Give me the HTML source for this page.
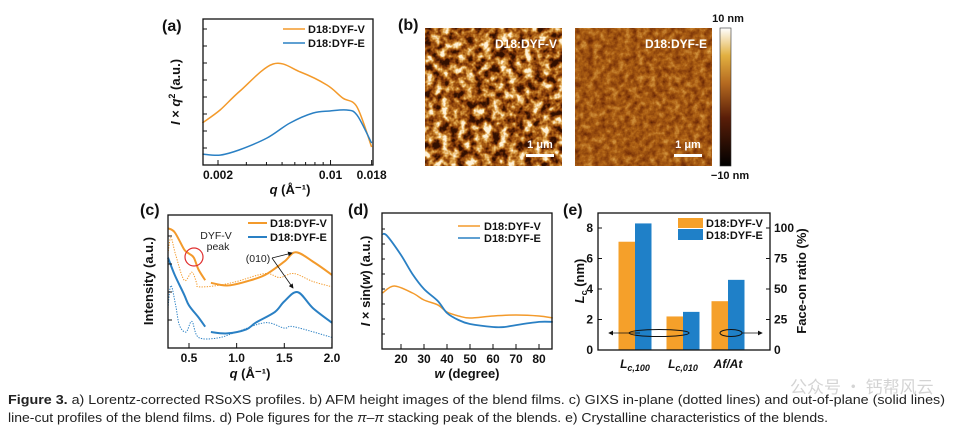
<!DOCTYPE html>
<html><head><meta charset="utf-8"><style>
html,body{margin:0;padding:0;background:#fff}
svg{display:block;font-family:"Liberation Sans","Noto Sans CJK SC",sans-serif}
.t{font-weight:bold;font-size:12px;fill:#111}
.ax{font-weight:bold;font-size:13px;fill:#111}
.lg{font-weight:bold;font-size:11px;fill:#111}
.pl{font-weight:bold;font-size:16px;fill:#111}
</style></head><body>
<svg id="fig" width="957" height="435" viewBox="0 0 957 435">
<defs>
<filter id="afm1" x="0" y="0" width="100%" height="100%" color-interpolation-filters="sRGB">
<feTurbulence type="fractalNoise" baseFrequency="0.12" numOctaves="3" seed="4"/>
<feColorMatrix type="matrix" values="2.2 0 0 0 -0.62  2.2 0 0 0 -0.62  2.2 0 0 0 -0.62  0 0 0 0 1"/>
<feComponentTransfer><feFuncR type="table" tableValues="0.2 0.48 0.68 0.88 1"/><feFuncG type="table" tableValues="0.06 0.2 0.38 0.65 0.95"/><feFuncB type="table" tableValues="0 0.03 0.08 0.3 0.85"/></feComponentTransfer>
</filter>
<filter id="afm2" x="0" y="0" width="100%" height="100%" color-interpolation-filters="sRGB">
<feTurbulence type="fractalNoise" baseFrequency="0.16" numOctaves="3" seed="9"/>
<feColorMatrix type="matrix" values="0.7 0 0 0 0.1  0.7 0 0 0 0.1  0.7 0 0 0 0.1  0 0 0 0 1"/>
<feComponentTransfer><feFuncR type="table" tableValues="0.2 0.48 0.68 0.88 1"/><feFuncG type="table" tableValues="0.06 0.2 0.38 0.65 0.95"/><feFuncB type="table" tableValues="0 0.03 0.08 0.3 0.85"/></feComponentTransfer>
</filter>
<linearGradient id="cbar" x1="0" y1="1" x2="0" y2="0">
<stop offset="0" stop-color="#000"/><stop offset="0.35" stop-color="#5a1e08"/><stop offset="0.6" stop-color="#b56a20"/><stop offset="0.8" stop-color="#e2b040"/><stop offset="1" stop-color="#fff"/>
</linearGradient>
<marker id="arr" markerWidth="6" markerHeight="6" refX="5" refY="3" orient="auto"><path d="M0,0 L6,3 L0,6 z" fill="#111"/></marker>
</defs>

<!-- panel a -->
<text class="pl" x="162" y="31">(a)</text>
<g id="pa"></g>
<rect x="203" y="19" width="170" height="146" fill="none" stroke="#111" stroke-width="1.3"/>
<text class="ax" x="290" y="194" text-anchor="middle"><tspan font-style="italic">q</tspan> (Å⁻¹)</text>
<text class="ax" transform="translate(180,92) rotate(-90)" text-anchor="middle"><tspan font-style="italic">I</tspan> × <tspan font-style="italic">q</tspan><tspan dy="-5" font-size="9">2</tspan><tspan dy="5"> (a.u.)</tspan></text>
<line x1="283" y1="29" x2="305" y2="29" stroke="#f39a2b" stroke-width="1.6"/>
<text class="lg" x="308" y="33">D18:DYF-V</text>
<line x1="283" y1="43" x2="305" y2="43" stroke="#2a80c4" stroke-width="1.6"/>
<text class="lg" x="308" y="47">D18:DYF-E</text>

<!-- panel b -->
<text class="pl" x="398" y="30">(b)</text>
<rect x="425" y="28" width="137" height="138" filter="url(#afm1)"/>
<rect x="575" y="28" width="137" height="138" filter="url(#afm2)"/>
<text x="557" y="48" font-size="12" font-weight="bold" fill="#fff" text-anchor="end">D18:DYF-V</text>
<text x="707" y="48" font-size="12" font-weight="bold" fill="#fff" text-anchor="end">D18:DYF-E</text>
<text x="540" y="148" font-size="11" font-weight="bold" fill="#fff" text-anchor="middle">1 μm</text>
<rect x="526" y="154" width="28" height="3" fill="#fff"/>
<text x="688" y="148" font-size="11" font-weight="bold" fill="#fff" text-anchor="middle">1 μm</text>
<rect x="674" y="154" width="28" height="3" fill="#fff"/>
<rect x="720" y="28" width="11" height="138" fill="url(#cbar)" stroke="#333" stroke-width="0.6"/>
<text class="lg" x="728" y="22" text-anchor="middle">10 nm</text>
<text class="lg" x="730" y="179" text-anchor="middle">−10 nm</text>

<!-- panel c -->
<text class="pl" x="140" y="215">(c)</text>
<g id="pc"></g>
<rect x="168" y="215" width="164" height="133" fill="none" stroke="#111" stroke-width="1.3"/>
<text class="ax" x="250" y="378" text-anchor="middle"><tspan font-style="italic">q</tspan> (Å⁻¹)</text>
<text class="ax" transform="translate(153,281) rotate(-90)" text-anchor="middle">Intensity (a.u.)</text>
<line x1="248" y1="223" x2="267" y2="223" stroke="#f39a2b" stroke-width="2"/>
<text class="lg" x="270" y="227">D18:DYF-V</text>
<line x1="248" y1="237" x2="267" y2="237" stroke="#2a80c4" stroke-width="2"/>
<text class="lg" x="270" y="241">D18:DYF-E</text>
<circle cx="194" cy="257" r="9" fill="none" stroke="#e03030" stroke-width="1.2"/>
<text x="216" y="239" font-size="10.5" fill="#222" text-anchor="middle">DYF-V</text>
<text x="218" y="250" font-size="10.5" fill="#222" text-anchor="middle">peak</text>
<text x="258" y="262" font-size="10.5" fill="#222" text-anchor="middle">(010)</text>
<line x1="272" y1="258" x2="292" y2="253" stroke="#111" stroke-width="0.8" marker-end="url(#arr)"/>
<line x1="272" y1="258" x2="293" y2="288" stroke="#111" stroke-width="0.8" marker-end="url(#arr)"/>

<!-- panel d -->
<text class="pl" x="348" y="215">(d)</text>
<g id="pd"></g>
<rect x="382" y="213" width="170" height="136" fill="none" stroke="#111" stroke-width="1.3"/>
<text class="ax" x="467" y="378" text-anchor="middle"><tspan font-style="italic">w</tspan> (degree)</text>
<text class="ax" transform="translate(370,281) rotate(-90)" text-anchor="middle" font-size="12"><tspan font-style="italic">I</tspan> × sin(<tspan font-style="italic">w</tspan>) (a.u.)</text>
<line x1="458" y1="226" x2="480" y2="226" stroke="#f39a2b" stroke-width="1.6"/>
<text class="lg" x="484" y="230">D18:DYF-V</text>
<line x1="458" y1="238" x2="480" y2="238" stroke="#2a80c4" stroke-width="1.6"/>
<text class="lg" x="484" y="242">D18:DYF-E</text>

<!-- panel e -->
<text class="pl" x="563" y="215">(e)</text>
<g id="pe"></g>
<rect x="598" y="213" width="172" height="137" fill="none" stroke="#111" stroke-width="1.3"/>
<text class="ax" transform="translate(584,281) rotate(-90)" text-anchor="middle"><tspan font-style="italic">L</tspan><tspan font-size="9" dy="3">c</tspan><tspan dy="-3"> (nm)</tspan></text>
<text class="ax" transform="translate(806,281) rotate(-90)" text-anchor="middle">Face-on ratio (%)</text>
<rect x="678" y="218" width="25" height="10" fill="#f5a02a"/>
<text class="lg" x="706" y="227">D18:DYF-V</text>
<rect x="678" y="229" width="25" height="11" fill="#1f80c8"/>
<text class="lg" x="706" y="239">D18:DYF-E</text>
<line x1="640" y1="333" x2="609" y2="333" stroke="#111" stroke-width="0.8" marker-end="url(#arr)"/>
<ellipse cx="659" cy="333" rx="30" ry="3.5" fill="none" stroke="#111" stroke-width="1"/>
<ellipse cx="731" cy="333" rx="11" ry="3.5" fill="none" stroke="#111" stroke-width="1"/>
<line x1="742" y1="333" x2="762" y2="333" stroke="#111" stroke-width="0.8" marker-end="url(#arr)"/>

<!-- watermark -->
<text x="790" y="393" font-size="17" fill="#d4d4d4" font-family="'Noto Sans CJK SC',sans-serif">公众号 · 钙帮风云</text>

<!-- caption -->
<text x="8" y="404" font-size="12.5" fill="#222" textLength="937" lengthAdjust="spacingAndGlyphs"><tspan font-weight="bold">Figure 3.</tspan>  a) Lorentz-corrected RSoXS profiles. b) AFM height images of the blend films. c) GIXS in-plane (dotted lines) and out-of-plane (solid lines)</text>
<text x="8" y="422" font-size="12.5" fill="#222" textLength="820" lengthAdjust="spacingAndGlyphs">line-cut profiles of the blend films. d) Pole figures for the <tspan font-style="italic">π–π</tspan> stacking peak of the blends. e) Crystalline characteristics of the blends.</text>
</svg>
<script>
// ---- panel a data ----
const aQ_V = [0.0016,0.00206,0.00274,0.0044,0.0065,0.0095,0.0119,0.0146,0.018];
const aI_V = [2.88,3.77,5.07,6.92,6.37,5.48,4.59,3.97,1.23];
const aQ_E = [0.0016,0.00206,0.0027,0.00403,0.0056,0.0078,0.0099,0.0126,0.0146,0.018];
const aI_E = [0.75,0.68,1.03,1.85,2.88,3.56,3.7,3.77,3.42,1.5];
const aTicks = [0.002,0.01,0.018];
const aTickLabels = ["0.002","0.01","0.018"];
// ---- panel c data ----
const cQ_Vs1 = [0.28,0.35,0.45,0.5,0.55,0.6,0.67];
const cI_Vs1 = [9.0,8.7,7.4,7.1,6.8,5.9,5.1];
const cQ_Vs2 = [0.73,0.9,1.1,1.3,1.5,1.62,1.8,2.0];
const cI_Vs2 = [4.9,4.7,5.0,5.5,6.5,7.2,6.5,5.5];
const cQ_Vd = [0.28,0.31,0.36,0.45,0.53,0.58,0.6,0.8,1.0,1.3,1.45,1.6,1.8,2.0];
const cI_Vd = [7.1,8.3,7.0,5.1,5.7,4.9,4.6,4.7,5.0,5.6,5.3,5.6,5.0,4.6];
const cQ_Es1 = [0.28,0.35,0.45,0.5,0.6,0.67];
const cI_Es1 = [6.8,5.5,4.0,3.2,2.3,1.6];
const cQ_Es2 = [0.73,0.9,1.1,1.2,1.4,1.5,1.64,1.8,2.0];
const cI_Es2 = [1.2,1.1,1.4,1.9,2.7,3.5,4.2,3.0,1.9];
const cQ_Ed = [0.28,0.31,0.36,0.4,0.47,0.53,0.6,0.8,1.0,1.3,1.5,1.6,2.0];
const cI_Ed = [3.0,4.7,3.2,1.7,1.2,2.0,0.8,0.75,1.2,1.9,1.5,1.6,0.8];
const cTicks = [0.5,1.0,1.5,2.0];
const cTickLabels = ["0.5","1.0","1.5","2.0"];
// ---- panel d data ----
const dW = [12,17,25,30,36,40,45,50,60,70,80,86];
const dI_V = [4.12,4.63,4.12,3.6,3.24,2.72,2.43,2.28,2.43,2.5,2.43,2.28];
const dW_E = [12,14,20,25,30,36,40,45,50,60,65,70,80,86];
const dI_E = [8.46,8.31,6.91,5.51,4.41,3.53,2.65,2.13,1.84,1.62,1.62,1.76,1.99,1.99];
const dTicks = [20,30,40,50,60,70,80];
// ---- panel e data ----
const eCats = ["Lc,100","Lc,010","Af/At"];
const eV = [7.1,2.2,40];
const eE = [8.3,2.5,57.5];
const eLeftTicks = [0,2,4,6,8];
const eRightTicks = [0,25,50,75,100];

const NS="http://www.w3.org/2000/svg";
function mk(tag, parent){const e=document.createElementNS(NS,tag);parent.appendChild(e);return e;}
function smooth(pts){
  if(pts.length<2)return "";
  let d="M"+pts[0][0].toFixed(1)+","+pts[0][1].toFixed(1);
  for(let i=0;i<pts.length-1;i++){
    const p0=pts[Math.max(0,i-1)],p1=pts[i],p2=pts[i+1],p3=pts[Math.min(pts.length-1,i+2)];
    const c1=[p1[0]+(p2[0]-p0[0])/6,p1[1]+(p2[1]-p0[1])/6];
    const c2=[p2[0]-(p3[0]-p1[0])/6,p2[1]-(p3[1]-p1[1])/6];
    d+=" C"+c1.map(v=>v.toFixed(1))+" "+c2.map(v=>v.toFixed(1))+" "+p2[0].toFixed(1)+","+p2[1].toFixed(1);
  }
  return d;
}
function line(g,xs,ys,fx,fy,color,w,dash,name){
  const p=mk('path',g);
  p.setAttribute('d',smooth(xs.map((x,i)=>[fx(x),fy(ys[i])])));
  p.setAttribute('fill','none');p.setAttribute('stroke',color);p.setAttribute('stroke-width',w);
  if(dash)p.setAttribute('stroke-dasharray',dash);
  
  
  return p;
}
function tick(g,x1,y1,x2,y2){const l=mk('line',g);l.setAttribute('x1',x1);l.setAttribute('y1',y1);l.setAttribute('x2',x2);l.setAttribute('y2',y2);l.setAttribute('stroke','#111');l.setAttribute('stroke-width','1');
  
  }
function label(g,x,y,txt,anchor){const t=mk('text',g);t.setAttribute('x',x);t.setAttribute('y',y);t.setAttribute('class','t');t.setAttribute('text-anchor',anchor||'middle');t.textContent=txt;
  
  
  return t;}
const OR="#f39a2b", BL="#2a80c4";

// panel a
const xA=q=>218+161*Math.log10(q/0.002), yA=v=>165-14.6*v;
const ga=document.getElementById('pa');
line(ga,aQ_V,aI_V,xA,yA,OR,1.5,null,'rsoxs-curve-v');
line(ga,aQ_E,aI_E,xA,yA,BL,1.5,null,'rsoxs-curve-e');
aTicks.forEach((q,i)=>{tick(ga,xA(q),165,xA(q),160);label(ga,xA(q),179,aTickLabels[i]);});
[0.003,0.004,0.005,0.006,0.007,0.008,0.009].forEach(q=>tick(ga,xA(q),165,xA(q),162));
for(let v=1;v<=8;v++)tick(ga,203,165-v*17,207,165-v*17);

// panel c
const xC=q=>189+95.3*(q-0.5), yC=v=>348-13.3*v;
const gc=document.getElementById('pc');
line(gc,cQ_Vd,cI_Vd,xC,yC,OR,1,"1.3 1.3",'gixs-inplane-v');
line(gc,cQ_Ed,cI_Ed,xC,yC,BL,1,"1.3 1.3",'gixs-inplane-e');
line(gc,cQ_Vs1,cI_Vs1,xC,yC,OR,2,null,'gixs-outplane-v-low');
line(gc,cQ_Vs2,cI_Vs2,xC,yC,OR,2,null,'gixs-outplane-v-high');
line(gc,cQ_Es1,cI_Es1,xC,yC,BL,2,null,'gixs-outplane-e-low');
line(gc,cQ_Es2,cI_Es2,xC,yC,BL,2,null,'gixs-outplane-e-high');
cTicks.forEach((q,i)=>{tick(gc,xC(q),348,xC(q),343);label(gc,xC(q),362,cTickLabels[i]);});
for(let v=1;v<=4;v++)tick(gc,168,348-v*28,172,348-v*28);

// panel d
const xD=w=>401+2.3*(w-20), yD=v=>349-13.6*v;
const gd=document.getElementById('pd');
line(gd,dW,dI_V,xD,yD,OR,1.5,null,'pole-curve-v');
line(gd,dW_E,dI_E,xD,yD,BL,1.8,null,'pole-curve-e');
dTicks.forEach(w=>{tick(gd,xD(w),349,xD(w),344);label(gd,xD(w),363,String(w));});
for(let v=1;v<=8;v++)tick(gd,382,349-v*15,385,349-v*15);

// panel e
const yE=v=>350-15.25*v, yP=p=>350-1.22*p;
const ge=document.getElementById('pe');
const gxs=[635,683,728];
eCats.forEach((c,i)=>{
  const sc = i===2 ? yP : yE;
  const b1=mk('rect',ge);b1.setAttribute('x',gxs[i]-16.5);b1.setAttribute('y',sc(eV[i]));b1.setAttribute('width',16.5);b1.setAttribute('height',350-sc(eV[i]));b1.setAttribute('fill','#f5a02a');
  
  
  const b2=mk('rect',ge);b2.setAttribute('x',gxs[i]);b2.setAttribute('y',sc(eE[i]));b2.setAttribute('width',16.5);b2.setAttribute('height',350-sc(eE[i]));b2.setAttribute('fill','#1f80c8');
  
  
});
const cl=[["L","c,100"],["L","c,010"],["Af/At",""]];
cl.forEach((c,i)=>{const t=label(ge,gxs[i],368,'');t.setAttribute('font-style','italic');
  const s1=mk('tspan',t);s1.textContent=c[0];
  if(c[1]){const s2=mk('tspan',t);s2.setAttribute('font-size','9');s2.setAttribute('dy','3');s2.textContent=c[1];}
  t.setAttribute('font-size','13');});
eLeftTicks.forEach(v=>{tick(ge,598,yE(v),602,yE(v));label(ge,593,yE(v)+4,String(v),'end');});
eRightTicks.forEach(p=>{tick(ge,770,yP(p),766,yP(p));label(ge,774,yP(p)+4,String(p),'start');});
</script>
</body></html>
